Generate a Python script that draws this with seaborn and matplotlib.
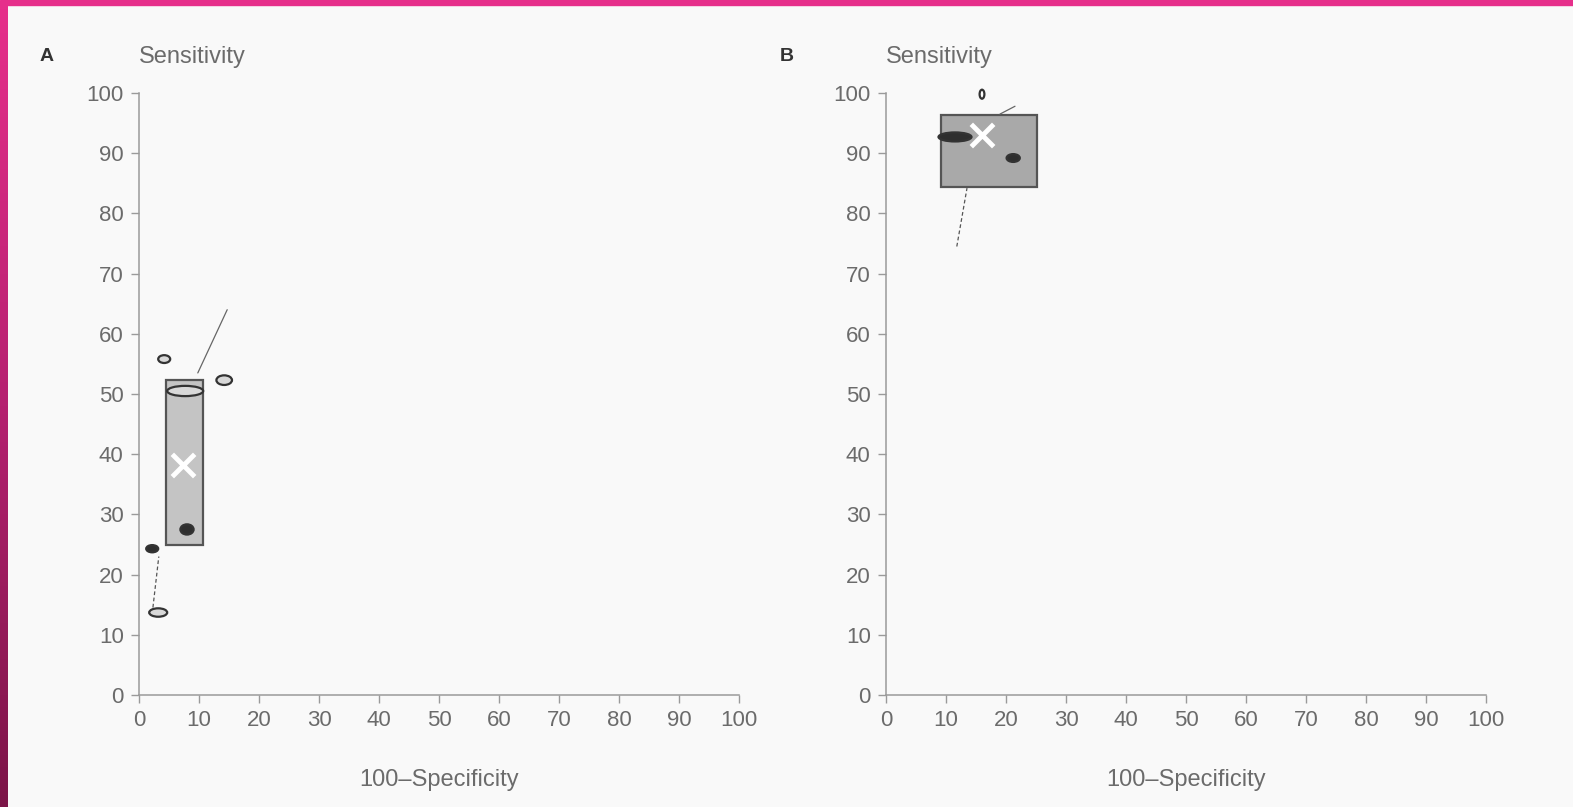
import numpy as np
import pandas as pd
import matplotlib.pyplot as plt
import seaborn as sns
from matplotlib.patches import Ellipse, Rectangle
from matplotlib.colors import LinearSegmentedColormap

# ### data (x = 100-specificity, y = sensitivity)
a_study_x = [4.2, 14.2, 7.7, 8.0, 2.2, 3.2]
a_study_y = [55.8, 52.3, 50.5, 27.5, 24.3, 13.7]
a_study_w = [2.0, 2.6, 6.0, 2.2, 2.0, 3.0]
a_study_h = [1.3, 1.6, 1.7, 1.7, 1.2, 1.4]
a_summary = (7.3, 38.2)
a_region = (4.5, 10.6, 25.0, 52.4)  # x0, x1, y0, y1
a_curve_lo_x = [2.2, 3.3]
a_curve_lo_y = [13.5, 23.0]
a_curve_hi_x = [9.8, 14.7]
a_curve_hi_y = [53.5, 64.0]

b_study_x = [16.0, 11.5, 21.2]
b_study_y = [99.8, 92.7, 89.2]
b_study_w = [0.8, 5.5, 2.2]
b_study_h = [1.5, 1.5, 1.3]
b_study_fill = ['none', 'dark', 'dark']
b_summary = (16.0, 93.0)
b_region = (9.2, 25.2, 84.4, 96.3)
b_curve_lo_x = [11.8, 13.5]
b_curve_lo_y = [74.5, 84.2]
b_curve_hi_x = [19.0, 21.5]
b_curve_hi_y = [96.5, 97.8]

ticks = list(range(0, 101, 10))

sns.set_style('white')
plt.rcParams['font.family'] = ['Liberation Sans Narrow', 'Liberation Sans', 'DejaVu Sans']
txt = '#6b6b6b'
axc = '#9a9a9a'

fig = plt.figure(figsize=(15.73, 8.07), dpi=100, facecolor='#f9f9f9')

# pink frame of the scan
fig.patches.append(Rectangle((0, 1 - 5 / 807), 1, 5 / 807, transform=fig.transFigure,
                             color='#e62f8b', zorder=10))
strip = fig.add_axes([0, 0, 8 / 1573, 1 - 5 / 807])
cmap = LinearSegmentedColormap.from_list('frame', ['#7c1548', '#b52070', '#e62f8b'])
strip.imshow(np.linspace(0, 1, 200).reshape(-1, 1), aspect='auto', cmap=cmap, origin='lower')
strip.set_axis_off()


def panel(left, letter, sx, sy, sw, sh, fills, summ, region, clx, cly, chx, chy, shade):
    ax = fig.add_axes([left / 1573, 1 - 695 / 807, 600 / 1573, 602 / 807])
    ax.set_facecolor('none')
    ax.set_xlim(0, 100)
    ax.set_ylim(0, 100)
    ax.set_xticks(ticks)
    ax.set_yticks(ticks)
    ax.tick_params(colors=axc, labelcolor=txt, labelsize=16, length=6, width=1,
                   direction='out', left=True, bottom=True, pad=5)
    for s in ['top', 'right']:
        ax.spines[s].set_visible(False)
    for s in ['left', 'bottom']:
        ax.spines[s].set_color(axc)
        ax.spines[s].set_linewidth(1.1)
    ax.set_xlabel('100\u2013Specificity', fontsize=17, color=txt, labelpad=27)
    ax.set_ylabel('')
    ax.text(0.0, 1.06, 'Sensitivity', transform=ax.transAxes, fontsize=17, color=txt,
            ha='left', va='center')
    ax.text(-0.165 if letter == 'A' else -0.177, 1.06, letter, transform=ax.transAxes,
            fontsize=14, fontweight='bold', color='#333333', ha='left', va='center')

    x0, x1, y0, y1 = region
    ax.add_patch(Rectangle((x0, y0), x1 - x0, y1 - y0, facecolor=shade,
                           edgecolor='#555555', linewidth=1.6, zorder=2))

    sns.lineplot(x=clx, y=cly, ax=ax, color='#555555', linewidth=0.9,
                 linestyle=(0, (3, 2)), zorder=3)
    sns.lineplot(x=chx, y=chy, ax=ax, color='#666666', linewidth=0.9, zorder=3)

    for x, y, w, h, f in zip(sx, sy, sw, sh, fills):
        face = '#2e2e2e' if f == 'dark' else ('#d8d8d8' if f == 'light' else 'white')
        ax.add_patch(Ellipse((x, y), w, h, facecolor=face, edgecolor='#333333',
                             linewidth=1.6, zorder=4, clip_on=False))

    sns.scatterplot(x=[summ[0]], y=[summ[1]], ax=ax, marker='x', s=260, color='white',
                    linewidth=3.5, zorder=5)
    return ax


panel(139, 'A', a_study_x, a_study_y, a_study_w, a_study_h,
      ['light', 'light', 'light', 'dark', 'dark', 'light'],
      a_summary, a_region, a_curve_lo_x, a_curve_lo_y, a_curve_hi_x, a_curve_hi_y, '#c4c4c4')
panel(886, 'B', b_study_x, b_study_y, b_study_w, b_study_h, b_study_fill,
      b_summary, b_region, b_curve_lo_x, b_curve_lo_y, b_curve_hi_x, b_curve_hi_y, '#a9a9a9')

fig.savefig('out.png', dpi=100, facecolor=fig.get_facecolor())
